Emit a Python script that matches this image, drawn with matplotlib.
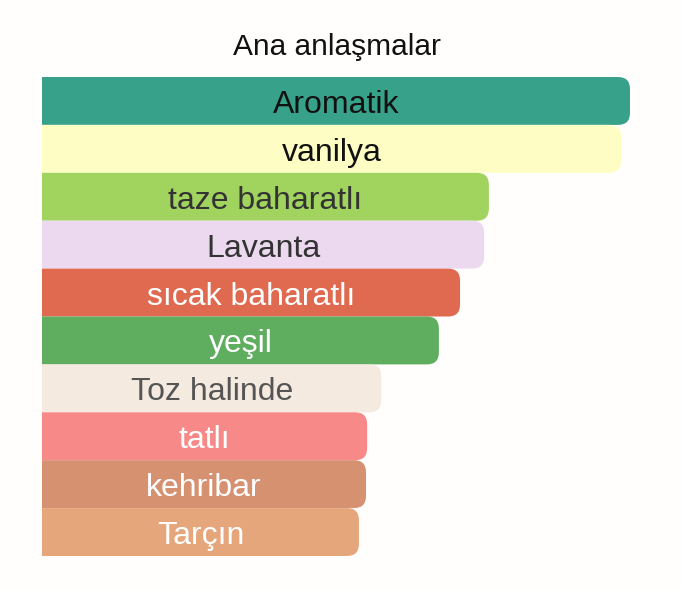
import matplotlib.pyplot as plt
from matplotlib.path import Path
from matplotlib.patches import PathPatch
from matplotlib.transforms import IdentityTransform

# data
notes = ['Aromatik', 'vanilya', 'taze baharatlı', 'Lavanta', 'sıcak baharatlı',
         'yeşil', 'Toz halinde', 'tatlı', 'kehribar', 'Tarçın']
values = [100, 98.5, 76.0, 75.2, 71.1, 67.5, 57.7, 55.3, 55.1, 53.9]
bar_colors = ['#37a18a', '#fefec4', '#a1d35f', '#ecd9ef', '#df6a4f',
              '#5fad5f', '#f4eadf', '#f78988', '#d69171', '#e5a67b']
text_colors = ['#111111', '#111111', '#333333', '#333333', '#ffffff',
               '#ffffff', '#555555', '#ffffff', '#ffffff', '#ffffff']
title = 'Ana anlaşmalar'

plt.rcParams['font.family'] = ['Liberation Sans', 'DejaVu Sans']

W, H = 682, 590
fig = plt.figure(figsize=(W / 100, H / 100), dpi=100)
fig.patch.set_facecolor('#fffefd')
ax = fig.add_axes([42 / W, 1 - 556 / H, (630 - 42) / W, (556 - 77) / H])
ax.set_xlim(0, 100)
ax.set_ylim(len(notes) - 0.5, -0.5)
ax.axis('off')

bars = ax.barh(range(len(notes)), values, height=1.0, color=bar_colors)

# swap plain rectangles for ones with rounded right corners (pixel radius)
fig.canvas.draw()
r = 12
for bar in bars:
    x0, y0 = bar.get_x(), bar.get_y()
    (px0, py0), (px1, py1) = ax.transData.transform(
        [(x0, y0), (x0 + bar.get_width(), y0 + bar.get_height())])
    lo, hi = min(py0, py1), max(py0, py1)
    rr = min(r, (hi - lo) / 2, px1 - px0)
    verts = [(px0, lo), (px1 - rr, lo), (px1, lo), (px1, lo + rr),
             (px1, hi - rr), (px1, hi), (px1 - rr, hi), (px0, hi), (px0, lo)]
    codes = [Path.MOVETO, Path.LINETO, Path.CURVE3, Path.CURVE3,
             Path.LINETO, Path.CURVE3, Path.CURVE3, Path.LINETO, Path.CLOSEPOLY]
    fig.patches.append(PathPatch(Path(verts, codes), transform=IdentityTransform(),
                                 facecolor=bar.get_facecolor(), edgecolor='none',
                                 zorder=-1, figure=fig))
    bar.set_visible(False)

for i, (name, v) in enumerate(zip(notes, values)):
    ax.annotate(name, (v / 2, i), xytext=(0, -12), textcoords='offset pixels',
                ha='center', va='baseline', fontsize=23, color=text_colors[i])

fig.text(336.5 / W, 1 - 55 / H, title, ha='center', va='baseline',
         fontsize=21.5, color='#111111')

fig.savefig('out.png', dpi=100, facecolor=fig.get_facecolor())
